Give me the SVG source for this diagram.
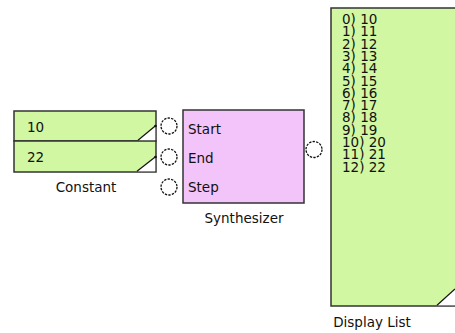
<svg xmlns="http://www.w3.org/2000/svg" width="455" height="333" viewBox="0 0 455 333">
<style>
.box{stroke:#333;stroke-width:1.5}
.green{fill:#d2f7a2}
.pink{fill:#f2c4fa}
.tri{fill:#fff;stroke:none}
.diag{stroke:#111;stroke-width:1.2;fill:none}
.port{fill:#fff;stroke:#111;stroke-width:1.3;stroke-dasharray:2.4 1.2}
text{font-family:"DejaVu Sans",Verdana,sans-serif;font-size:13.5px;fill:#111}
.lbl{text-anchor:middle}
</style>
<g id="constant">
<rect class="box green" x="14" y="111" width="142" height="30"/>
<rect class="box green" x="14" y="141" width="142" height="31"/>
<polygon class="tri" points="138,140.2 155.2,140.2 155.2,126"/>
<line class="diag" x1="138" y1="140.2" x2="155.2" y2="126"/>
<circle cx="155.5" cy="126" r="1.3" fill="#111"/>
<polygon class="tri" points="137,171.2 155.2,171.2 155.2,157"/>
<line class="diag" x1="137" y1="171.2" x2="155.2" y2="157"/>
<circle cx="155.5" cy="157" r="1.3" fill="#111"/>
<text x="27" y="131.5">10</text>
<text x="27" y="162">22</text>
<text class="lbl" x="86" y="191.5">Constant</text>
</g>
<g id="synthesizer">
<rect class="box pink" x="183" y="110" width="121" height="93"/>
<text x="188" y="134">Start</text>
<text x="188" y="162.5">End</text>
<text x="188" y="191.5">Step</text>
<text class="lbl" x="244" y="222.5">Synthesizer</text>
</g>
<g id="ports">
<circle class="port" cx="169" cy="126" r="8"/>
<circle class="port" cx="169" cy="157" r="8"/>
<circle class="port" cx="169" cy="187" r="8"/>
<circle class="port" cx="314" cy="149.5" r="8"/>
</g>
<g id="display-list">
<rect class="box green" x="331" y="8" width="130" height="298"/>
<polygon class="tri" points="437,305.2 455,305.2 455,289"/>
<line class="diag" x1="437" y1="305.2" x2="455" y2="289"/>
<text x="342" y="24"><tspan x="342" y="24">0) 10</tspan><tspan x="342" dy="12.3">1) 11</tspan><tspan x="342" dy="12.3">2) 12</tspan><tspan x="342" dy="12.3">3) 13</tspan><tspan x="342" dy="12.3">4) 14</tspan><tspan x="342" dy="12.3">5) 15</tspan><tspan x="342" dy="12.3">6) 16</tspan><tspan x="342" dy="12.3">7) 17</tspan><tspan x="342" dy="12.3">8) 18</tspan><tspan x="342" dy="12.3">9) 19</tspan><tspan x="342" dy="12.3">10) 20</tspan><tspan x="342" dy="12.3">11) 21</tspan><tspan x="342" dy="12.3">12) 22</tspan></text>
<text class="lbl" x="372" y="327">Display List</text>
</g>
<g id="connectors"></g>
</svg>
